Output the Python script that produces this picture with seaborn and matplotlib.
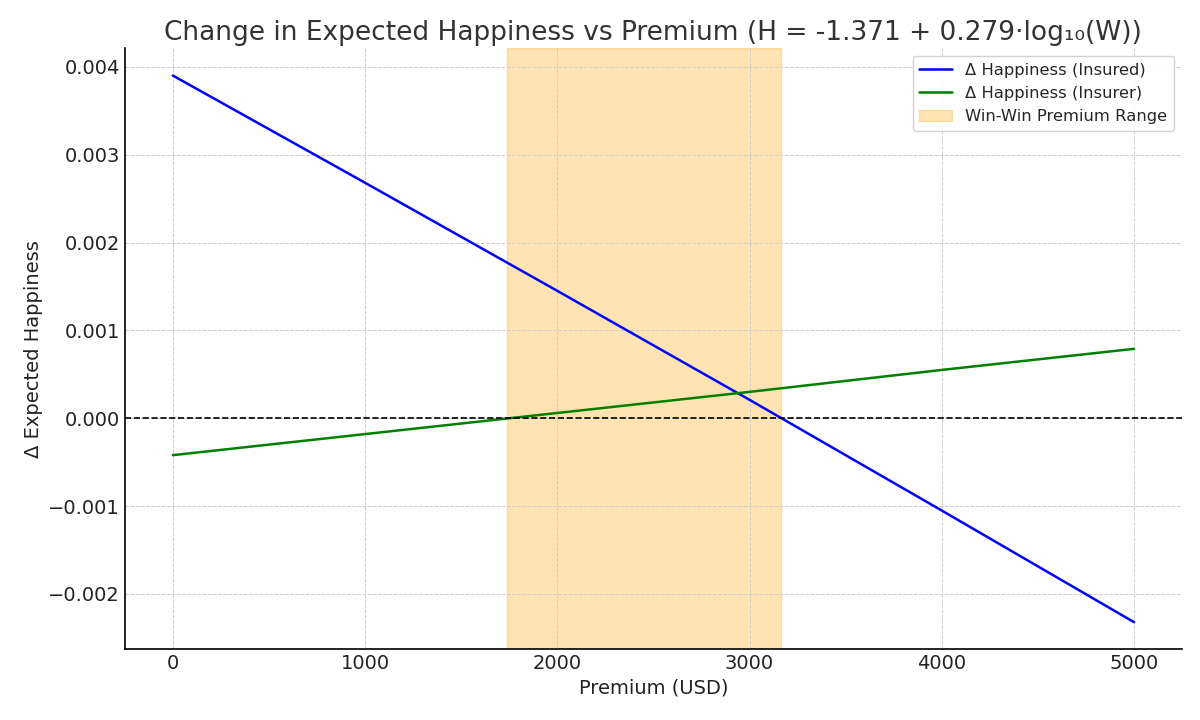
import numpy as np
import pandas as pd
import matplotlib
matplotlib.use("Agg")
import matplotlib.pyplot as plt
import seaborn as sns
from matplotlib.lines import Line2D
from matplotlib.patches import Patch

# Data
premium = [0, 1000, 2000, 3000, 4000, 5000]
d_insured = [0.00390, 0.00268, 0.00145, 0.00021, -0.00105, -0.00232]
d_insurer = [-0.00042, -0.00018, 0.00006, 0.00030, 0.00055, 0.00079]
winwin_low = 1740
winwin_high = 3165

title = "Change in Expected Happiness vs Premium (H = -1.371 + 0.279·log₁₀(W))"
xlabel = "Premium (USD)"
ylabel = "Δ Expected Happiness"
label_insured = "Δ Happiness (Insured)"
label_insurer = "Δ Happiness (Insurer)"
label_span = "Win-Win Premium Range"

sns.set_style("white")
plt.rcParams['font.family'] = ['DejaVu Sans']

df = pd.DataFrame({
    "premium": premium * 2,
    "value": d_insured + d_insurer,
    "series": [label_insured] * len(premium) + [label_insurer] * len(premium),
})

fig = plt.figure(figsize=(12, 7.2), dpi=100)
ax = fig.add_axes([0.104, 0.098, 0.881, 0.835])

sns.lineplot(data=df, x="premium", y="value", hue="series",
             palette={label_insured: "blue", label_insurer: "green"},
             linewidth=1.8, ax=ax, legend=False)
ax.axhline(0, color="black", linestyle="--", linewidth=1.2)
ax.axvspan(winwin_low, winwin_high, color="orange", alpha=0.3, zorder=0)

ax.grid(True, linestyle="--", color="#cccccc", linewidth=0.7)
ax.set_axisbelow(True)
for s in ["top", "right"]:
    ax.spines[s].set_visible(False)
for s in ["left", "bottom"]:
    ax.spines[s].set_linewidth(1.2)
    ax.spines[s].set_color("black")
ax.tick_params(direction="in", labelsize=14, length=5, colors="black", labelcolor="#222222")

ax.set_title(title, fontsize=19, color="#333333", pad=6)
ax.set_xlabel(xlabel, fontsize=14, color="#222222", labelpad=4)
ax.set_ylabel(ylabel, fontsize=14, color="#222222")

handles = [Line2D([0], [0], color="blue", lw=1.8),
           Line2D([0], [0], color="green", lw=1.8),
           Patch(facecolor="orange", alpha=0.3, edgecolor="orange")]
ax.legend(handles, [label_insured, label_insurer, label_span],
          loc="upper right", fontsize=11.8, frameon=True, framealpha=0.9)

fig.savefig("out.png", dpi=100)
